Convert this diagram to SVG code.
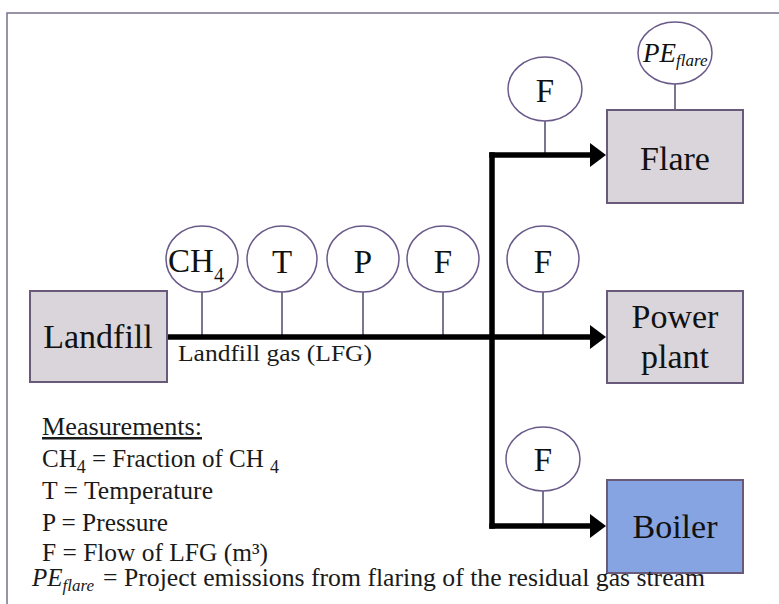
<svg xmlns="http://www.w3.org/2000/svg" width="779" height="604" viewBox="0 0 779 604">
<defs>
<marker id="ah" markerUnits="userSpaceOnUse" markerWidth="18" markerHeight="26" refX="10" refY="12" orient="auto">
<path d="M0 0 L16 12 L0 24 Z" fill="#000"/>
</marker>
<style>
.frame{fill:none;stroke:#7a6f8a;stroke-width:1.5}
.box{fill:#d9d5da;stroke:#6a5a7a;stroke-width:2}
.boiler{fill:#86a4e2;stroke:#6a5a7a;stroke-width:2}
.meter{fill:#fff;stroke:#6a5a8a;stroke-width:1.5}
.stem{stroke:#4a4a6a;stroke-width:1.5;fill:none}
.pipe{stroke:#000;stroke-width:5.5;fill:none}
text{font-family:'Liberation Serif','Times New Roman','DejaVu Serif',serif}
.big{font-size:34px;fill:#111;text-anchor:middle}
.mt{font-size:33px;fill:#111;text-anchor:middle}
.leg{font-size:25px;fill:#1a1a1a}
.lbl{font-size:24px;fill:#1a1a1a}
.it{font-style:italic}
</style>
</defs>
<rect width="779" height="604" fill="#fff"/>
<rect class="frame" x="7" y="13" width="800" height="700"/>

<g id="connectors">
<line class="stem" x1="202" y1="292" x2="202" y2="337"/>
<line class="stem" x1="282" y1="292" x2="282" y2="337"/>
<line class="stem" x1="363" y1="292" x2="363" y2="337"/>
<line class="stem" x1="443" y1="292" x2="443" y2="337"/>
<line class="stem" x1="543" y1="292" x2="543" y2="337"/>
<line class="stem" x1="545" y1="121" x2="545" y2="155"/>
<line class="stem" x1="675" y1="84" x2="675" y2="110"/>
<line class="stem" x1="543" y1="491" x2="543" y2="526"/>
<path class="pipe" d="M167 337 H600" marker-end="url(#ah)"/>
<path class="pipe" d="M492 152.3 V528.7"/>
<path class="pipe" d="M489.3 155 H600" marker-end="url(#ah)"/>
<path class="pipe" d="M489.3 526 H600" marker-end="url(#ah)"/>
</g>

<g id="landfill">
<rect class="box" x="30" y="291" width="137" height="91"/>
<text class="big" x="98" y="348">Landfill</text>
</g>
<text id="lfg-label" class="lbl" x="178" y="361" textLength="194" lengthAdjust="spacingAndGlyphs">Landfill gas (LFG)</text>

<g id="flare">
<rect class="box" x="607" y="110" width="136" height="93"/>
<text class="big" x="675" y="170">Flare</text>
</g>
<g id="power-plant">
<rect class="box" x="607" y="291" width="136" height="92"/>
<text class="big" x="675" y="328">Power</text>
<text class="big" x="675" y="368">plant</text>
</g>
<g id="boiler">
<rect class="boiler" x="607" y="480" width="136" height="93"/>
<text class="big" x="675" y="538">Boiler</text>
</g>

<g id="m-ch4">
<ellipse class="meter" cx="202" cy="259" rx="36" ry="33"/>
<text class="mt" x="196" y="272">CH<tspan font-size="20" dy="10">4</tspan></text>
</g>
<g id="m-t">
<ellipse class="meter" cx="282" cy="259" rx="35" ry="33"/>
<text class="mt" x="282" y="273">T</text>
</g>
<g id="m-p">
<ellipse class="meter" cx="363" cy="259" rx="36" ry="33"/>
<text class="mt" x="363" y="273">P</text>
</g>
<g id="m-f1">
<ellipse class="meter" cx="443" cy="259" rx="36" ry="33"/>
<text class="mt" x="443" y="273">F</text>
</g>
<g id="m-f2">
<ellipse class="meter" cx="543" cy="259" rx="36" ry="33"/>
<text class="mt" x="543" y="273">F</text>
</g>
<g id="m-f-flare">
<ellipse class="meter" cx="545" cy="89" rx="37" ry="32"/>
<text class="mt" x="545" y="102">F</text>
</g>
<g id="m-f-boiler">
<ellipse class="meter" cx="543" cy="459" rx="37" ry="32"/>
<text class="mt" x="543" y="471">F</text>
</g>
<g id="m-pe">
<ellipse class="meter" cx="675" cy="53" rx="37" ry="31"/>
<text class="it" font-size="27" fill="#111" x="643" y="62">PE<tspan font-size="17" dy="4">flare</tspan></text>
</g>

<g id="legend">
<text class="leg" x="42" y="435" text-decoration="underline" textLength="160" lengthAdjust="spacingAndGlyphs">Measurements:</text>
<text class="leg" x="42" y="467">CH<tspan font-size="18" dy="6">4</tspan><tspan dy="-6"> = Fraction of CH </tspan><tspan font-size="18" dy="6">4</tspan></text>
<text class="leg" x="42" y="499" textLength="171" lengthAdjust="spacingAndGlyphs">T = Temperature</text>
<text class="leg" x="42" y="531" textLength="126" lengthAdjust="spacingAndGlyphs">P = Pressure</text>
<text class="leg" x="42" y="561" textLength="226" lengthAdjust="spacingAndGlyphs">F = Flow of LFG (m³)</text>
<text class="leg" x="32" y="586"><tspan class="it">PE</tspan><tspan class="it" font-size="17" dy="5">flare</tspan><tspan x="103" dy="-5" textLength="602" lengthAdjust="spacingAndGlyphs">= Project emissions from flaring of the residual gas stream</tspan></text>
</g>
</svg>
